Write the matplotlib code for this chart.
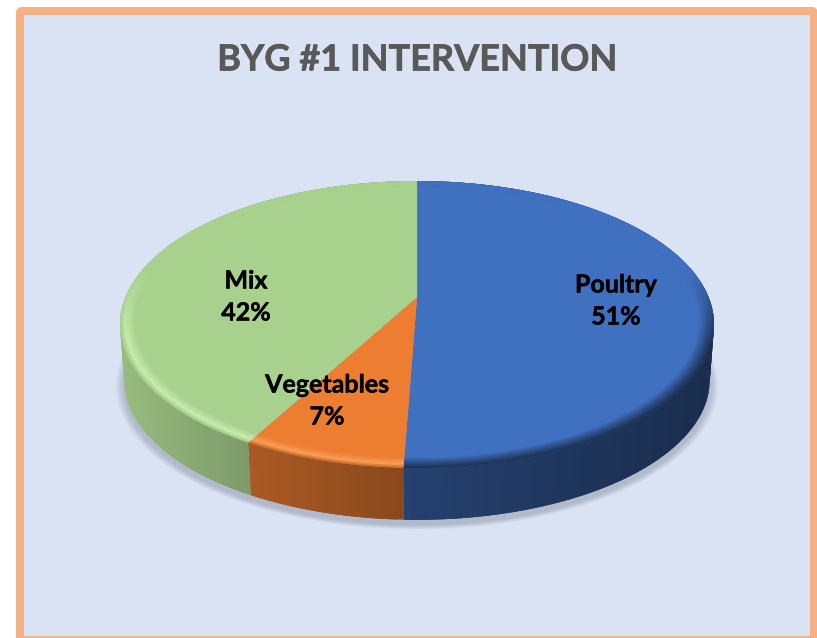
import numpy as np
import matplotlib
matplotlib.use("Agg")
import matplotlib.pyplot as plt
import matplotlib.patheffects as pe
from matplotlib.collections import PolyCollection
from matplotlib.colors import to_rgb
from matplotlib.patches import FancyBboxPatch

title = "BYG #1 INTERVENTION"
categories = ["Poultry", "Vegetables", "Mix"]
shares = [50.6, 7.4, 42.0]
share_labels = ["51%", "7%", "42%"]
colors = ["#4070C0", "#ED7D31", "#A9D18E"]
rim_colors = ["#1E3560", "#F99C55", "#C6EBAC"]
wall_shades = [(0.58, 0.40), (0.72, 0.58), (0.90, 0.74)]
rim_outer = [0.42, 0.80, 0.95]
label_xy = [(616, 285), (327, 385), (246, 281)]

plt.rcParams["font.family"] = ["Lato", "DejaVu Sans"]

# perspective of the disc, in image pixels
CX, CY = 417, 297
A, B, K = 291.5, 138.2, 0.1916
FLAT = 0.95
WALL_SCALE = 0.985
WALL_YSCALE = 0.97
WALL_DROP = 57


def project(rho, deg):
    t = np.radians(deg)
    u, v = rho * np.sin(t), rho * np.cos(t)
    w = 1 + K * v
    return CX + A * u / w, CY - B * v / w


def project_bottom(rho, deg):
    x, y = project(rho, deg)
    return CX + (x - CX) * WALL_SCALE, CY + WALL_DROP + (y - CY) * WALL_YSCALE


def mix(c1, c2, t):
    return tuple((1 - t) * np.array(to_rgb(c1)) + t * np.array(to_rgb(c2)))


def scaled(c, s):
    return tuple(s * np.array(to_rgb(c)))


def arc(i):
    degs = np.arange(edges[i], edges[i + 1], 1.0)
    return np.r_[degs, edges[i + 1]]


fig = plt.figure(figsize=(8.17, 6.38), dpi=100, facecolor="white")
ax = fig.add_axes([0, 0, 1, 1])
ax.set_xlim(0, 817)
ax.set_ylim(638, 0)
ax.axis("off")

ax.add_patch(FancyBboxPatch((20, 11), 794, 629, boxstyle="round,pad=0,rounding_size=2",
                            fc="#DAE3F3", ec="#F4B183", lw=5.76, zorder=0))
bold = [pe.withStroke(linewidth=0.3, foreground="black")]
ax.text(417, 60, title, ha="center", va="center", fontsize=26, fontweight="bold",
        color="#595959", zorder=10, path_effects=[pe.withStroke(linewidth=0.5, foreground="#595959")])

edges = 360 * np.cumsum([0] + shares) / np.sum(shares)
all_deg = np.linspace(0, 360, 361)

# soft shadow under the disc
bx, by = project_bottom(1.0, all_deg)
bcx, bcy = CX, by.mean()
for grow in np.linspace(1.03, 1.0, 16):
    ax.fill(bcx + (bx - bcx) * grow, bcy + 5 + (by - bcy) * grow,
            color="#6B7388", alpha=0.025, lw=0, zorder=1)

# wall, each strip overlaps the next so no seams show
for i in range(3):
    degs = arc(i)
    tx, ty = project(1.0, degs)
    lx, ly = project_bottom(1.0, degs)
    front = np.cos(np.radians(degs)) < 0.35
    lo, hi = tx[front].min(), tx[front].max()
    shade_l, shade_r = wall_shades[i]
    polys, cols = [], []
    for j in range(len(degs) - 1):
        k = min(j + 2, len(degs) - 1)
        polys.append([(tx[j], ty[j]), (tx[j + 1], ty[j + 1]), (tx[k], ty[k]),
                      (lx[k], ly[k]), (lx[j + 1], ly[j + 1]), (lx[j], ly[j])])
        s = np.interp((tx[j] + tx[j + 1]) / 2, [lo, hi], [shade_l, shade_r])
        cols.append(scaled(colors[i], s))
    ax.add_collection(PolyCollection(polys, facecolors=cols, edgecolors="none", zorder=2))

# bevelled rim and flat top face
rhos = np.linspace(1.0, FLAT, 8)
for i in range(3):
    degs = arc(i)
    polys, cols = [], []
    outer = scaled(colors[i], rim_outer[i])
    for r in range(len(rhos) - 1):
        ox, oy = project(rhos[r], degs)
        nx, ny = project(rhos[min(r + 2, len(rhos) - 1)], degs)
        t = 1 - (r + 0.5) / (len(rhos) - 1)
        for j in range(len(degs) - 1):
            k = min(j + 2, len(degs) - 1)
            v = np.cos(np.radians(degs[j]))
            front = np.clip((0.2 - v) / 0.5, 0, 1)
            if i == 0:
                c = mix(colors[i], outer, front * t ** 0.9)
            else:
                c = mix(colors[i], rim_colors[i], front * min(t / 0.6, 1))
                if t > 0.65:
                    c = mix(c, outer, front * (t - 0.65) / 0.35)
            polys.append([(ox[j], oy[j]), (ox[k], oy[k]), (nx[k], ny[k]), (nx[j], ny[j])])
            cols.append(c)
    ax.add_collection(PolyCollection(polys, facecolors=cols, edgecolors="none", zorder=3))
    fx, fy = project(FLAT, degs)
    ax.fill(np.r_[CX, fx], np.r_[CY, fy], color=colors[i], lw=0.2, zorder=4)

for name, share, (x, y) in zip(categories, share_labels, label_xy):
    ax.text(x, y, name, ha="center", va="center", fontsize=18, fontweight="bold", color="black",
            zorder=11, path_effects=bold)
    ax.text(x, y + 32, share, ha="center", va="center", fontsize=18, fontweight="bold", color="black",
            zorder=11, path_effects=bold)

fig.savefig("out.png", dpi=100)
